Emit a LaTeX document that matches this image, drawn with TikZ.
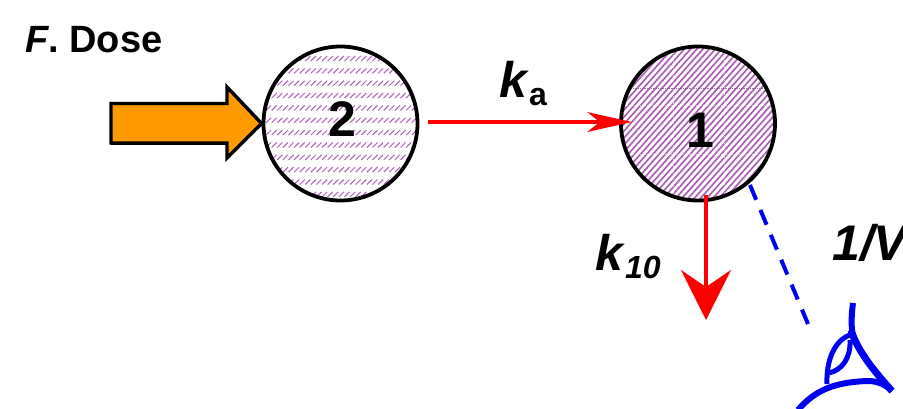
\documentclass[tikz,border=0pt]{standalone}
\usepackage{fontspec}
\setmainfont{Liberation Sans}
\usetikzlibrary{arrows.meta}
\definecolor{hatchp}{HTML}{AC62B4}
\definecolor{doseor}{HTML}{FF9900}
\definecolor{eyeblue}{HTML}{0000F0}
\tikzset{
  x=1pt,y=-1pt,
  compartment/.style={circle,draw=black,line width=3.8pt,minimum size=154pt,inner sep=0pt},
  digit/.style={inner sep=0pt,font=\bfseries\fontsize{50}{50}\selectfont},
  lab/.style={inner sep=0pt,anchor=base west,font=\bfseries\fontsize{50}{50}\selectfont},
  doselab/.style={inner sep=0pt,anchor=base west,font=\bfseries\fontsize{38}{38}\selectfont},
  redflow/.style={draw=red,line width=3.4pt}
}
\newcommand{\subfont}{\fontsize{32}{32}\selectfont}
\begin{document}
\begin{tikzpicture}
\useasboundingbox (0,0) rectangle (903,408);
\clip (0,0) rectangle (903,408);

% coordinates
\coordinate (kaStart) at (428,122);
\coordinate (kaEnd) at (632,122);
\coordinate (kStart) at (706,195);
\coordinate (kEnd) at (706,320);
\coordinate (dashStart) at (750,185);
\coordinate (dashEnd) at (808,324);

% compartment 2: rows of short hatch dashes (origin is the node centre)
\node[compartment,path picture={
  \foreach \r in {0,...,11}{
    \foreach \c in {0,...,29}{
      \draw[hatchp,line width=1pt]
        ({-80+\c*5.6},{-62.5+\r*12.35}) -- ({-75+\c*5.6},{-67.5+\r*12.35});
    }
  }
}] (two) at (340.5,123.5) {};
\node[digit] (twoL) at (342.5,119) {2};

% compartment 1: continuous diagonal hatch
\node[compartment,path picture={
  \foreach \c in {0,...,68}{
    \draw[hatchp,line width=1.7pt]
      ({-228+\c*6.2},90) -- ({-68+\c*6.2},-90);
  }
  \draw[white,opacity=.6,line width=.8pt,densely dotted] (-25,-85) -- (-25,85);
  \draw[white,opacity=.6,line width=.8pt,densely dotted] (26,-85) -- (26,85);
  \draw[white,opacity=.6,line width=.8pt,densely dotted] (-85,-18.5) -- (85,-18.5);
  \draw[white,opacity=.6,line width=.8pt,densely dotted] (-85,30.5) -- (85,30.5);
  \draw[hatchp!70!black,opacity=.7,line width=.8pt,densely dotted] (-85,-35.5) -- (85,-35.5);
}] (one) at (698,123.5) {};
\node[digit] (oneL) at (700,130.5) {1};

% dose arrow
\draw[line width=3.4pt,fill=doseor,line join=miter,miter limit=4]
  (111,103.5) -- (227,103.5) -- (227,87) -- (two.west) -- (227,158) -- (227,143) -- (111,143) -- cycle;
\draw[line width=2.6pt] (111,143.5) -- (227,143.5);

% flows
\draw[redflow,-{Stealth[length=45pt,width=20pt,inset=13pt,line width=0pt]}] (kaStart) -- (kaEnd);
\draw[redflow,line width=4pt,-{Stealth[length=50pt,width=50pt,inset=17pt]}] (kStart) -- (kEnd);
\draw[eyeblue,line width=4pt,dash pattern=on 16pt off 11pt] (dashStart) -- (dashEnd);

% effect eye
\draw[eyeblue,line width=6pt] (853,303) .. controls (851,318) and (851,330) .. (854,340);
\draw[eyeblue,line width=7pt] (851,330) .. controls (858,352) and (875,372) .. (892,391);
\draw[eyeblue,line width=6pt] (798,410) .. controls (815,390) and (835,382) .. (868,381) .. controls (878,381) and (886,385) .. (892,391);
\draw[eyeblue,line width=5pt] (850,335) .. controls (835,340) and (826,360) .. (827,384);
\draw[eyeblue,line width=5pt] (850,340) .. controls (851,358) and (842,370) .. (829,373);

% labels
\node[doselab] (dose) at (25,52) {\textit{F}. Dose};
\node[lab] (ka) at (499,97) {\textit{k}\raisebox{-8pt}{\subfont a}};
\node[lab] (k10) at (595,270) {\textit{k}\raisebox{-8pt}{\subfont\textit{10}}};
\node[lab] (vv) at (832,260) {\textit{1/V}};
\end{tikzpicture}
\end{document}
